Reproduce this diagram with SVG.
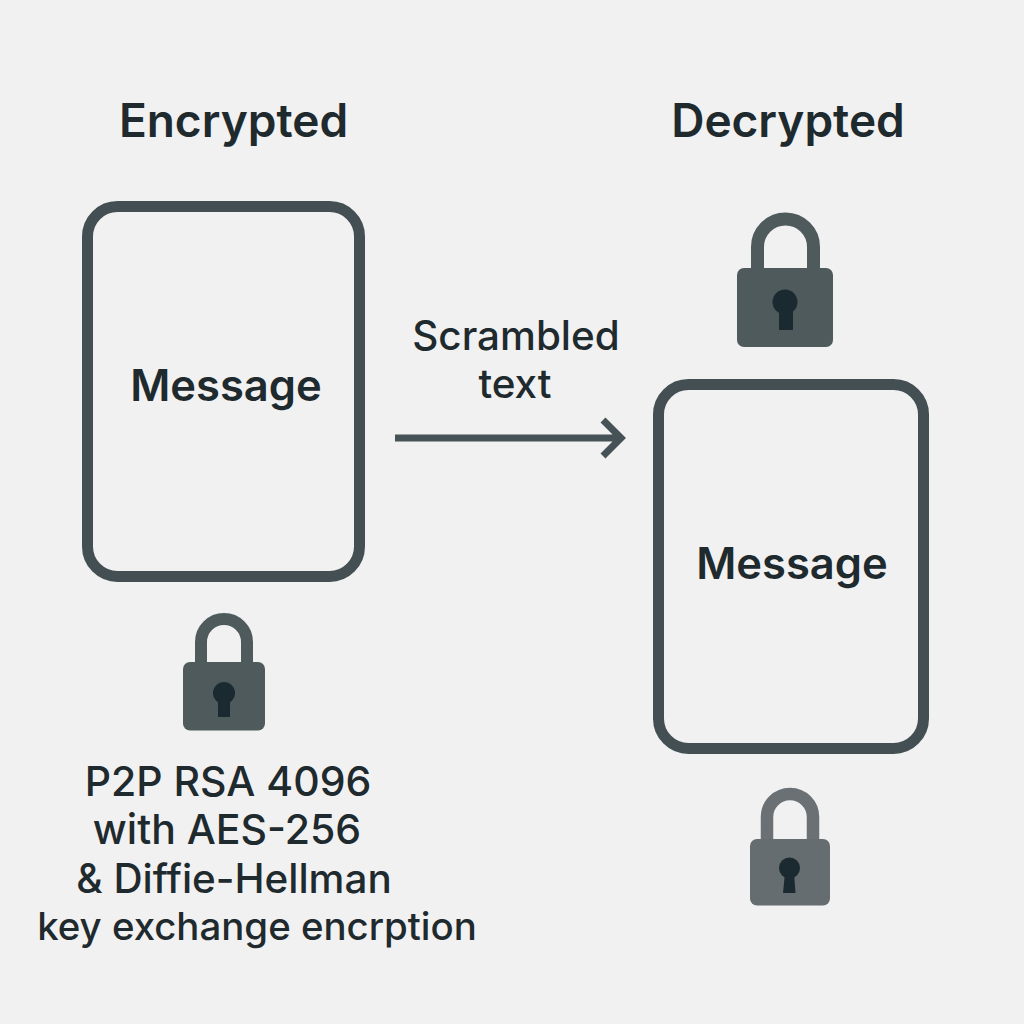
<svg xmlns="http://www.w3.org/2000/svg" width="1024" height="1024" viewBox="0 0 1024 1024">
<defs><style>
text{font-family:Inter,"Liberation Sans",sans-serif;text-anchor:middle;fill:#1f2a2e;font-weight:500}
.h{font-size:46px;font-weight:600}
.m{font-size:43.500px;font-weight:600}
.t{font-size:40.400px}
.box{fill:#f1f1f1;stroke:#434f52;stroke-width:11}
.sh{fill:none}
.key{fill:#1b2a30}
</style></defs>
<rect width="1024" height="1024" fill="#f1f1f1"/>
<text class="h" x="233.500" y="137">Encrypted</text>
<text class="h" x="788" y="137">Decrypted</text>
<g id="msg-left"><rect class="box" x="87.500" y="206.500" width="272" height="370" rx="30"/><text class="m" x="226" y="401">Message</text></g>
<g id="msg-right"><rect class="box" x="658.500" y="384.500" width="265" height="364" rx="30"/><text class="m" x="792" y="579">Message</text></g>
<g id="lock-top"><path class="sh" stroke="#4f5a5d" stroke-width="13" d="M757.500 272V247a28 28 0 0 1 56 0v25"/><rect x="737" y="268" width="96" height="79" rx="7" fill="#4f5a5d"/><circle class="key" cx="785" cy="302" r="12.500"/><path class="key" d="M779 306h14v24h-14z"/></g>
<g id="lock-left"><path class="sh" stroke="#4f5a5d" stroke-width="12" d="M201 666V642a23 23 0 0 1 46 0v24"/><rect x="183" y="662" width="82" height="68.500" rx="7" fill="#4f5a5d"/><circle class="key" cx="224" cy="693" r="11"/><path class="key" d="M218 697h12v20h-12z"/></g>
<g id="lock-bottom"><path class="sh" stroke="#6a7073" stroke-width="12.500" d="M767 842V817a23 23 0 0 1 46 0v25"/><rect x="750" y="839" width="80" height="66.500" rx="7" fill="#666d70"/><circle class="key" cx="789.500" cy="868" r="10.500"/><path class="key" d="M785 872h9l1.500 21h-12.500z"/></g>
<g id="connectors"><path d="M395 438H620M603 420l18 18-18 18" fill="none" stroke="#465255" stroke-width="7"/></g>
<g id="labels">
<text class="t" x="516" y="350">Scrambled</text><text class="t" x="515" y="398">text</text>
<text class="t" style="font-size:41px" x="228" y="796">P2P RSA 4096</text>
<text class="t" style="font-size:41px" x="227" y="844">with AES-256</text>
<text class="t" x="234" y="893">&amp; Diffie-Hellman</text>
<text class="t" style="font-size:38.400px" x="257" y="940">key exchange encrption</text>
</g>
</svg>
